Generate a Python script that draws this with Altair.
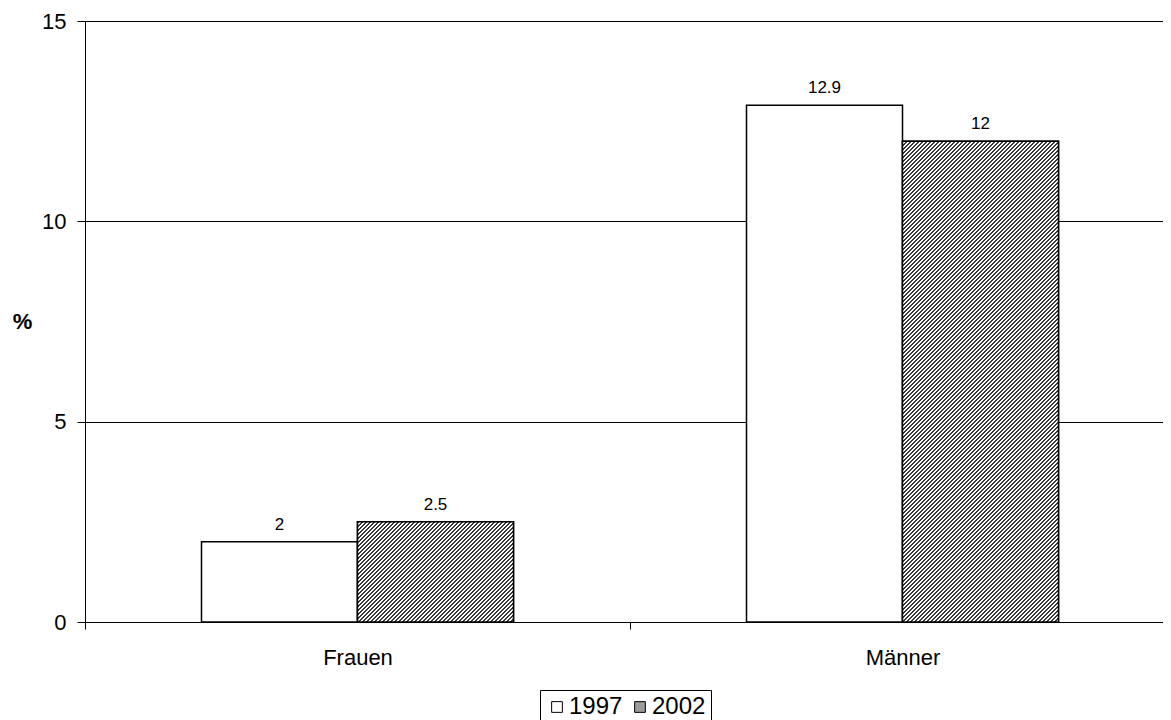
import altair as alt
import pandas as pd

categories = ["Frauen", "Männer"]
years = ["1997", "2002"]
values_1997 = [2.0, 12.9]
values_2002 = [2.5, 12.0]
y_ticks = [0, 5, 10, 15]

rows = []
for i, cat in enumerate(categories):
    rows.append({"Geschlecht": cat, "Jahr": years[0], "Wert": values_1997[i]})
    rows.append({"Geschlecht": cat, "Jahr": years[1], "Wert": values_2002[i]})
df = pd.DataFrame(rows)

# plot area size (px) and layout constants; the category axis runs a little past the view edge
W, H = 1078, 601
X_RANGE = 1090
Y_MAX = 15
OFFSET_PAD = 0.7468
FONT = "Liberation Sans"


def hatch(bar_w, bar_h, period=4.0, dark_share=0.5):
    # diagonal "/" stripes built as a hard-stop linear gradient over the bar's box
    span = bar_w + bar_h
    a = span / (bar_w ** 2 + bar_h ** 2)
    dt = period / span
    stops = []
    k = 0
    while k * dt < 1:
        t0 = k * dt
        t1 = min(t0 + dark_share * dt, 1)
        t2 = min((k + 1) * dt, 1)
        stops += [
            alt.GradientStop(offset=round(t0, 5), color="#3a3a3a"),
            alt.GradientStop(offset=round(t1, 5), color="#3a3a3a"),
            alt.GradientStop(offset=round(t1, 5), color="white"),
            alt.GradientStop(offset=round(t2, 5), color="white"),
        ]
        k += 1
    return alt.LinearGradient(gradient="linear", x1=0, y1=0,
                              x2=round(bar_w * a, 5), y2=round(bar_h * a, 5),
                              stops=stops)


x_enc = alt.X("Geschlecht:N",
              scale=alt.Scale(domain=categories, range=[0, X_RANGE],
                              paddingInner=0, paddingOuter=0),
              axis=alt.Axis(title=None, labelAngle=0, tickBand="extent", tickSize=7,
                            labelPadding=35, labelBaseline="alphabetic"))
xoff_enc = alt.XOffset("Jahr:N",
                       scale=alt.Scale(domain=years, paddingInner=0, paddingOuter=OFFSET_PAD))
y_enc = alt.Y("Wert:Q",
              scale=alt.Scale(domain=[0, Y_MAX], nice=False),
              axis=alt.Axis(values=y_ticks, title="%", titleAngle=0, titleX=-63, titleY=H / 2,
                            titleAlign="center", titleBaseline="middle", titleFontWeight="bold",
                            titleFontSize=22, tickSize=8, labelPadding=11, grid=True,
                            gridColor="black", gridWidth=1))

base = alt.Chart(df).encode(x=x_enc, xOffset=xoff_enc, y=y_enc)

legend = alt.Legend(
    title=None, orient="none", legendX=455, legendY=669, direction="horizontal",
    padding=5, strokeColor="black", fillColor="white", symbolType="square",
    symbolSize=115, symbolStrokeColor="black", symbolStrokeWidth=1,
    labelFontSize=24, labelOffset=0, columnPadding=5,
)

bars = base.mark_bar(stroke="black", strokeWidth=1.5).encode(
    fill=alt.Fill("Jahr:N",
                  scale=alt.Scale(domain=years, range=["white", "#9a9a9a"]),
                  legend=legend)
)

# hatched overlay for every 2002 bar
bar_w = (X_RANGE / len(categories)) / (len(years) + 2 * OFFSET_PAD)
hatch_layers = []
for i, cat in enumerate(categories):
    bar_h = values_2002[i] / Y_MAX * H
    hatch_layers.append(
        base.transform_filter(
            (alt.datum.Geschlecht == cat) & (alt.datum.Jahr == years[1])
        ).mark_bar(fill=hatch(bar_w, bar_h), stroke="black", strokeWidth=1.5)
    )

labels = base.mark_text(dy=-12, baseline="alphabetic", fontSize=17, color="black").encode(
    text=alt.Text("Wert:Q")
)

chart = alt.layer(bars, *hatch_layers, labels).properties(
    width=W,
    height=H,
    autosize=alt.AutoSizeParams(type="none"),
    padding={"left": 77, "top": 13, "right": 0, "bottom": 98},
    background="white",
).configure_view(
    stroke=None
).configure_axis(
    labelFont=FONT, titleFont=FONT, labelFontSize=22, labelColor="black", titleColor="black",
    domainColor="black", domainWidth=1, tickColor="black", tickWidth=1
).configure_legend(
    labelFont=FONT, labelColor="black"
).configure_text(
    font=FONT
)

chart.save("out.html", embed_options={"renderer": "svg", "actions": False})
